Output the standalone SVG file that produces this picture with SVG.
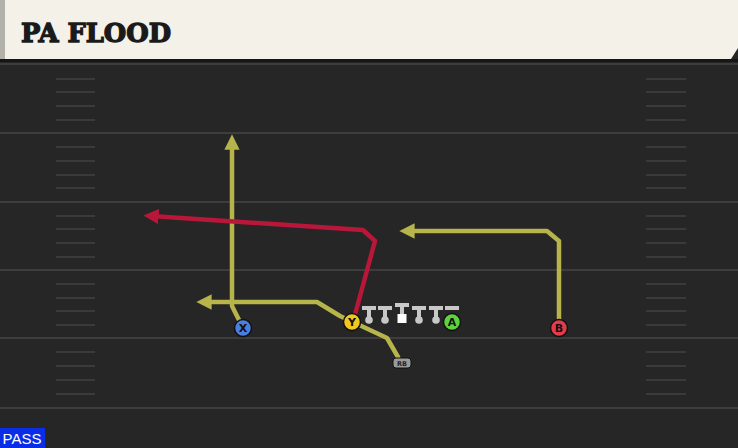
<svg xmlns="http://www.w3.org/2000/svg" width="738" height="448" viewBox="0 0 738 448">
<defs>
<style>
.yard{stroke:#3d3d3d;stroke-width:2}
.hash{stroke:#3a3a3a;stroke-width:2}
.ry{fill:none;stroke:#b6b44a;stroke-width:4.5;stroke-linejoin:round;stroke-linecap:round}
.rr{fill:none;stroke:#b8173a;stroke-width:4.5;stroke-linejoin:round;stroke-linecap:round}
.pl{stroke:#111;stroke-width:1.5}
.lbl{font-family:"DejaVu Sans","Liberation Sans",sans-serif;font-weight:bold;font-size:11px;fill:#111;text-anchor:middle}
.lm{fill:#c8c8c8}
</style>
<marker id="ay" viewBox="0 0 10 10" refX="5" refY="5" markerWidth="3.4" markerHeight="3.4" orient="auto-start-reverse" markerUnits="strokeWidth"><path d="M0,0 L10,5 L0,10 z" fill="#b6b44a"/></marker>
<marker id="ar" viewBox="0 0 10 10" refX="5" refY="5" markerWidth="3.4" markerHeight="3.4" orient="auto-start-reverse" markerUnits="strokeWidth"><path d="M0,0 L10,5 L0,10 z" fill="#b8173a"/></marker>
</defs>
<rect x="0" y="0" width="738" height="448" fill="#262626"/>
<g id="field">
<line class="yard" x1="0" y1="64" x2="738" y2="64"/>
<line class="yard" x1="0" y1="133" x2="738" y2="133"/>
<line class="yard" x1="0" y1="202" x2="738" y2="202"/>
<line class="yard" x1="0" y1="270" x2="738" y2="270"/>
<line class="yard" x1="0" y1="338" x2="738" y2="338"/>
<line class="yard" x1="0" y1="408" x2="738" y2="408"/>
<g class="hash">
<path d="M56 79H95M56 92H95M56 106H95M56 120H95M56 147H95M56 161H95M56 175H95M56 188H95M56 216H95M56 229H95M56 243H95M56 257H95M56 284H95M56 298H95M56 311H95M56 325H95M56 352H95M56 366H95M56 380H95M56 394H95"/>
<path d="M646 79H686M646 92H686M646 106H686M646 120H686M646 147H686M646 161H686M646 175H686M646 188H686M646 216H686M646 229H686M646 243H686M646 257H686M646 284H686M646 298H686M646 311H686M646 325H686M646 352H686M646 366H686M646 380H686M646 394H686"/>
</g>
</g>
<g id="header">
<rect x="0" y="0" width="738" height="60" fill="#f4f1e9"/>
<path d="M738 48 L731 59 L738 59 Z" fill="#262626"/>
<rect x="0" y="0" width="5" height="60" fill="#b2b2aa"/>
<rect x="0" y="59" width="738" height="3" fill="#161616"/>
<text x="21" y="42" font-family="DejaVu Serif,'Liberation Serif',serif" font-weight="bold" font-size="26" fill="#1a1a1a" stroke="#1a1a1a" stroke-width="1.3" textLength="150" lengthAdjust="spacingAndGlyphs">PA FLOOD</text>
</g>
<g id="connectors">
<path class="ry" marker-end="url(#ay)" d="M243 328 L232 306 L232 142"/>
<path class="ry" marker-end="url(#ay)" d="M398 357 L387 338 L340 316 L317 302 L204 302"/>
<path class="rr" marker-end="url(#ar)" d="M353 322 L375 241 L363 230 L151 216"/>
<path class="ry" marker-end="url(#ay)" d="M559 328 L559 241 L547 231 L407 231"/>
</g>
<g id="line">
<g class="lm">
<rect x="362" y="306" width="14" height="4"/><rect x="367" y="309" width="4" height="10"/><circle cx="369" cy="320" r="3.8"/>
<rect x="378" y="306" width="14" height="4"/><rect x="383" y="309" width="4" height="10"/><circle cx="385" cy="320" r="3.8"/>
<rect x="395" y="303" width="14" height="4"/><rect x="400" y="306" width="4" height="8"/><rect x="397.5" y="314" width="9" height="9" fill="#fff"/>
<rect x="412" y="306" width="14" height="4"/><rect x="417" y="309" width="4" height="10"/><circle cx="419" cy="320" r="3.8"/>
<rect x="429" y="306" width="14" height="4"/><rect x="434" y="309" width="4" height="10"/><circle cx="436" cy="320" r="3.8"/>
<rect x="445" y="306" width="14" height="4"/>
</g>
</g>
<g id="X"><circle class="pl" cx="243" cy="328" r="8.5" fill="#4a7fe0"/><text class="lbl" x="243" y="332">X</text></g>
<g id="Y"><circle class="pl" cx="352" cy="322" r="8.5" fill="#f2c81e"/><text class="lbl" x="352" y="326">Y</text></g>
<g id="A"><circle class="pl" cx="452" cy="322" r="8.5" fill="#5fd23e"/><text class="lbl" x="452" y="326">A</text></g>
<g id="B"><circle class="pl" cx="559" cy="328" r="8.5" fill="#e63a4a"/><text class="lbl" x="559" y="332">B</text></g>
<g id="RB"><rect x="393" y="358" width="18" height="10" rx="3" fill="#9a9a9a" stroke="#111" stroke-width="1"/><text x="402" y="366" font-family="DejaVu Sans,sans-serif" font-weight="bold" font-size="6.5" fill="#222" text-anchor="middle">RB</text></g>
<g id="pass"><rect x="0" y="428" width="45" height="20" fill="#0a2ee6"/><text x="22" y="444" font-family="'Liberation Sans',sans-serif" font-size="15" fill="#fff" text-anchor="middle">PASS</text></g>
</svg>
